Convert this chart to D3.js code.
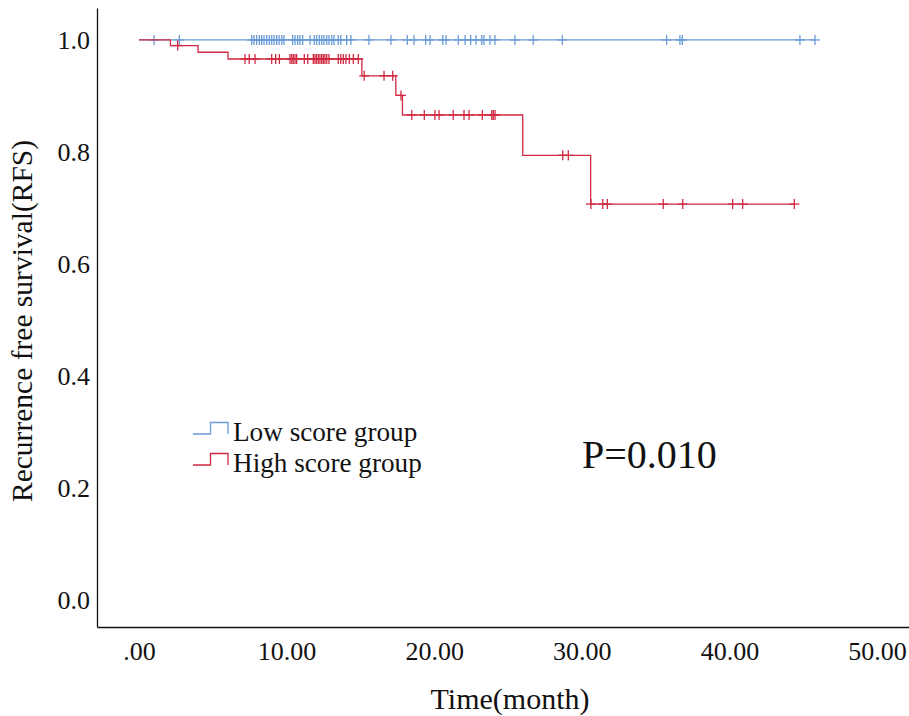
<!DOCTYPE html>
<html>
<head>
<meta charset="utf-8">
<script src="https://cdn.jsdelivr.net/npm/d3@7"></script>
<style>
  body { margin: 0; background: #fff; }
  text { font-family: "Liberation Serif", "Times New Roman", serif; fill: #111; }
</style>
</head>
<body>
<div id="chart"></div>
<script>
//Chart size
var width = 909, height = 716;

//Low score group: no events, censored times only
var lowCensor = [1.02, 2.73, 7.64, 7.79, 7.97, 8.15, 8.31, 8.47, 8.65, 8.83, 8.99, 9.15, 9.33, 9.49, 9.67, 9.82,
    10.41, 10.57, 10.75, 10.91, 11.09, 11.59, 11.88, 12.04, 12.22, 12.38, 12.53, 12.72, 12.87, 13.06, 13.21,
    13.5, 13.67, 14.07, 14.36, 15.58, 17.07, 18.18, 18.63, 19.42, 19.72, 20.58, 20.8, 21.63, 22.09, 22.47,
    22.83, 23.22, 23.37, 23.78, 24.12, 25.47, 26.71, 28.68, 35.75, 36.65, 36.81, 44.78, 45.8];

//High score group: event times and survival after each event
var highEventTimes = [2.13, 4.0, 6.03, 15.1, 17.4, 17.85, 26.0, 30.6];
var highSurv = [0.990, 0.978, 0.966, 0.936, 0.901, 0.866, 0.794, 0.707];
var highCensor = [2.62, 7.18, 7.47, 7.86, 8.99, 9.26, 9.51, 10.23, 10.35, 10.45, 10.57, 10.68, 11.2, 11.43,
    11.81, 11.92, 12.03, 12.15, 12.26, 12.38, 12.49, 12.6, 12.72, 12.87, 13.5, 13.67, 13.84, 14.02, 14.25,
    14.52, 14.86, 15.26, 16.6, 17.19, 17.75, 18.48, 19.33, 20.05, 20.33, 21.29, 22.02, 22.36, 23.26, 23.9,
    24.0, 24.12, 28.71, 29.09, 30.62, 31.42, 31.73, 35.52, 36.84, 40.22, 40.9, 44.4];

var xTicks = [0, 10, 20, 30, 40, 50];
var yTicks = [0, 0.2, 0.4, 0.6, 0.8, 1.0];
var groupNames = ["Low score group", "High score group"];
var groupColors = ["#6b9bd8", "#cf2a42"];

var svg = d3.select("#chart").append("svg")
    .attr("width", width)
    .attr("height", height);

// scales: domain padded so the axis lines run past 0 and 50 / 0 and 1
var x = d3.scaleLinear().domain([-2.846, 52.17]).range([97, 909]);
var y = d3.scaleLinear().domain([-0.048, 1.057]).range([627, 8]);

var xAxis = svg.append("g")
    .attr("transform", "translate(0,627)")
    .call(d3.axisBottom(x).tickValues(xTicks).tickSize(0).tickPadding(15)
        .tickFormat(function(d) { return d === 0 ? ".00" : d3.format(".2f")(d); }));
xAxis.selectAll("text").attr("font-size", 26);

var yAxis = svg.append("g")
    .attr("transform", "translate(97,0)")
    .call(d3.axisLeft(y).tickValues(yTicks).tickSize(0).tickPadding(7)
        .tickFormat(d3.format(".1f")));
yAxis.selectAll("text").attr("font-size", 26);

svg.selectAll(".domain").attr("stroke", "#111").attr("stroke-width", 1.3);

//axis titles
svg.append("text")
    .attr("x", 510).attr("y", 709)
    .attr("text-anchor", "middle")
    .attr("font-size", 30)
    .text("Time(month)");

svg.append("text")
    .attr("transform", "translate(32,321) rotate(-90)")
    .attr("text-anchor", "middle")
    .attr("font-size", 29.5)
    .text("Recurrence free survival(RFS)");

// build a step curve from event times
function stepPoints(events, surv, endTime) {
    var pts = [[0, 1]];
    for (var i = 0; i < events.length; i++) pts.push([events[i], surv[i]]);
    pts.push([endTime, surv.length ? surv[surv.length - 1] : 1]);
    return pts;
}

function survAt(events, surv, t) {
    var s = 1;
    for (var i = 0; i < events.length; i++) { if (events[i] <= t) s = surv[i]; }
    return s;
}

var line = d3.line()
    .x(function(d) { return x(d[0]); })
    .y(function(d) { return y(d[1]); })
    .curve(d3.curveStepAfter);

var groups = [
    { events: [], surv: [], censor: lowCensor, color: groupColors[0] },
    { events: highEventTimes, surv: highSurv, censor: highCensor, color: groupColors[1] }
];

groups.forEach(function(g) {
    var endTime = d3.max(g.censor.concat(g.events));
    svg.append("path")
        .datum(stepPoints(g.events, g.surv, endTime))
        .attr("fill", "none")
        .attr("stroke", g.color)
        .attr("stroke-width", 1.3)
        .attr("d", line);

    //censor marks as small plus signs
    var marks = svg.append("g").selectAll("g")
        .data(g.censor)
        .enter().append("g")
        .attr("transform", function(d) {
            return "translate(" + x(d) + "," + y(survAt(g.events, g.surv, d)) + ")";
        });
    marks.append("line")
        .attr("x1", 0).attr("x2", 0).attr("y1", -5).attr("y2", 5)
        .attr("stroke", g.color).attr("stroke-width", 1.3);
    marks.append("line")
        .attr("x1", -5).attr("x2", 5).attr("y1", 0).attr("y2", 0)
        .attr("stroke", g.color).attr("stroke-width", 1.3);
});

//legend
var legend = svg.append("g").selectAll("g")
    .data(groupNames)
    .enter().append("g")
    .attr("transform", function(d, i) { return "translate(193," + (434 + i * 31) + ")"; });

legend.append("path")
    .attr("fill", "none")
    .attr("stroke", function(d, i) { return groupColors[i]; })
    .attr("stroke-width", 1.3)
    .attr("d", "M0,0H17.5V-11.5H35V0");

legend.append("text")
    .attr("x", 40).attr("y", 7)
    .attr("font-size", 27.2)
    .text(function(d) { return d; });

svg.append("text")
    .attr("x", 582).attr("y", 468)
    .attr("font-size", 40)
    .text("P=0.010");
</script>
</body>
</html>
